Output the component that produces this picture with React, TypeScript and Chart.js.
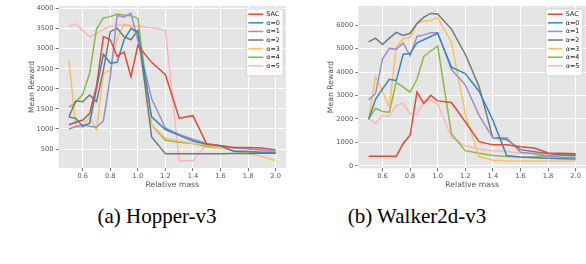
import React, { useEffect, useRef } from 'react';
import { Chart, registerables } from 'chart.js';

Chart.register(...registerables);

// ---------- data ----------
const relativeMass = [0.5, 0.55, 0.6, 0.65, 0.7, 0.75, 0.8, 0.85, 0.9, 0.95, 1.0, 1.1, 1.2, 1.3, 1.4, 1.5, 1.6, 1.7, 1.8, 1.9, 2.0];

const seriesLabels = ['SAC', 'α=0', 'α=1', 'α=2', 'α=3', 'α=4', 'α=5'];
const seriesColors = ['#E24A33', '#348ABD', '#988ED5', '#777777', '#FBC15E', '#8EBA42', '#FFB5B8'];

// Hopper-v3
const hopperSAC = [1104, 1168, 1224, 1384, 2064, 3303, 3223, 2807, 2919, 2302, 3079, 2660, 2350, 1267, 1332, 621, 580, 539, 539, 524, 476];
const hopperA0 = [1296, 1264, 1064, 1144, 2000, 2863, 2638, 2662, 3222, 3504, 3408, 1304, 985, 840, 700, 620, 580, 440, 440, 418, 403];
const hopperA1 = [1000, 1060, 1107, 1070, 1041, 1204, 2300, 3830, 3784, 3888, 3200, 1750, 1024, 864, 743, 636, 580, 524, 500, 476, 418];
const hopperA2 = [1304, 1704, 1680, 1848, 1680, 2464, 3424, 3510, 3300, 3222, 3463, 800, 380, 380, 380, 385, 385, 390, 390, 395, 400];
const hopperA3 = [2718, 1040, 1040, 1300, 980, 2380, 2460, 3260, 3610, 3580, 3260, 1107, 767, 700, 636, 597, 539, 459, 393, 313, 216];
const hopperA4 = [1536, 1664, 1864, 2382, 3488, 3768, 3800, 3864, 3840, 3824, 3760, 1100, 718, 670, 636, 563, 530, 460, 435, 410, 400];
const hopperA5 = [3560, 3620, 3450, 3300, 3370, 3480, 3560, 3590, 3580, 3560, 3560, 3520, 3463, 210, 210, 620, 580, 540, 510, 480, 450];

// Walker2d-v3
const walkerSAC = [411, 411, 411, 411, 405, 950, 1300, 3142, 2661, 3005, 2771, 2700, 1880, 1029, 893, 893, 811, 757, 551, 535, 510];
const walkerA0 = [1988, 2840, 3280, 3692, 3637, 4763, 4791, 5244, 5382, 5519, 5656, 4214, 3938, 3185, 1950, 440, 370, 340, 320, 300, 290];
const walkerA1 = [2812, 3087, 4557, 5011, 4970, 5244, 4695, 5519, 5588, 5684, 5684, 4110, 3457, 2156, 1193, 1193, 576, 510, 412, 370, 370];
const walkerA2 = [5286, 5450, 5176, 5450, 5698, 5560, 5657, 6069, 6343, 6505, 6481, 5835, 4763, 3390, 1190, 1127, 690, 600, 520, 470, 440];
const walkerA3 = [2015, 3802, 3183, 2496, 5066, 5423, 5478, 6069, 6179, 6206, 6316, 5280, 2200, 399, 235, 210, 208, 208, 208, 208, 208];
const walkerA4 = [1988, 2455, 2318, 2290, 3568, 3362, 3142, 3692, 4667, 4900, 5107, 1360, 646, 535, 440, 399, 380, 390, 420, 450, 480];
const walkerA5 = [2015, 1809, 2153, 2112, 2565, 2675, 2221, 2180, 2771, 2812, 2634, 1220, 852, 716, 646, 605, 535, 520, 505, 500, 495];

const xTickValues = [0.6, 0.8, 1.0, 1.2, 1.4, 1.6, 1.8, 2.0];
const xTickLabels = ['0.6', '0.8', '1.0', '1.2', '1.4', '1.6', '1.8', '2.0'];
const hopperYTickValues = [500, 1000, 1500, 2000, 2500, 3000, 3500, 4000];
const hopperYTickLabels = ['500', '1000', '1500', '2000', '2500', '3000', '3500', '4000'];
const walkerYTickValues = [0, 1000, 2000, 3000, 4000, 5000, 6000];
const walkerYTickLabels = ['0', '1000', '2000', '3000', '4000', '5000', '6000'];

const xTitle = 'Relative mass';
const yTitle = 'Mean Reward';
const captions = ['(a) Hopper-v3', '(b) Walker2d-v3'];

// ---------- plugins ----------
const bgPlugin = {
  id: 'plotBg',
  beforeDraw(chart: any) {
    const { ctx, chartArea } = chart;
    ctx.save();
    ctx.fillStyle = '#E5E5E5';
    ctx.fillRect(chartArea.left, chartArea.top, chartArea.right - chartArea.left, chartArea.bottom - chartArea.top);
    ctx.restore();
  },
};

const legendPlugin = {
  id: 'innerLegend',
  afterDraw(chart: any) {
    const { ctx, chartArea } = chart;
    const opts = chart.options.plugins.innerLegend || {};
    const w = 37;
    const h = 67;
    const x0 = chartArea.right - (opts.rightGap ?? 3) - w;
    const y0 = chartArea.top + 3;
    ctx.save();
    ctx.beginPath();
    const r = 2;
    ctx.moveTo(x0 + r, y0);
    ctx.lineTo(x0 + w - r, y0);
    ctx.quadraticCurveTo(x0 + w, y0, x0 + w, y0 + r);
    ctx.lineTo(x0 + w, y0 + h - r);
    ctx.quadraticCurveTo(x0 + w, y0 + h, x0 + w - r, y0 + h);
    ctx.lineTo(x0 + r, y0 + h);
    ctx.quadraticCurveTo(x0, y0 + h, x0, y0 + h - r);
    ctx.lineTo(x0, y0 + r);
    ctx.quadraticCurveTo(x0, y0, x0 + r, y0);
    ctx.closePath();
    ctx.fillStyle = 'rgba(255,255,255,0.85)';
    ctx.fill();
    ctx.strokeStyle = '#cccccc';
    ctx.lineWidth = 0.8;
    ctx.stroke();
    ctx.font = '6.4px "DejaVu Sans"';
    ctx.textBaseline = 'middle';
    chart.data.datasets.forEach((ds: any, i: number) => {
      const y = y0 + 5.2 + i * 8.6;
      ctx.beginPath();
      ctx.strokeStyle = ds.borderColor;
      ctx.lineWidth = 1.5;
      ctx.moveTo(x0 + 2, y);
      ctx.lineTo(x0 + 17, y);
      ctx.stroke();
      ctx.fillStyle = '#222222';
      ctx.fillText(ds.label, x0 + 20, y + 0.3);
    });
    ctx.restore();
  },
};

// ---------- panel ----------
type PanelProps = {
  width: number;
  height: number;
  series: number[][];
  yMin: number;
  yMax: number;
  yTickValues: number[];
  yTickLabels: string[];
  yAxisWidth: number;
  xAxisHeight: number;
  yTitlePad: number;
  rightPad: number;
  legendGap: number;
};

function Panel(p: PanelProps) {
  const ref = useRef<HTMLCanvasElement | null>(null);
  useEffect(() => {
    if (!ref.current) return;
    const tickFont = { family: 'DejaVu Sans', size: 6.7 };
    const titleFont = { family: 'DejaVu Sans', size: 7.7 };
    const chart = new Chart(ref.current, {
      type: 'line',
      data: {
        datasets: p.series.map((vals, i) => ({
          label: seriesLabels[i],
          data: vals.map((v, j) => ({ x: relativeMass[j], y: v })),
          borderColor: seriesColors[i],
          backgroundColor: seriesColors[i],
          borderWidth: 1.5,
          pointRadius: 0,
          tension: 0,
          fill: false,
        })),
      },
      options: {
        responsive: false,
        animation: false,
        devicePixelRatio: 1,
        layout: { padding: { left: 0, right: p.rightPad, top: 0, bottom: 0 } },
        plugins: {
          legend: { display: false },
          tooltip: { enabled: false },
          innerLegend: { rightGap: p.legendGap },
        } as any,
        scales: {
          x: {
            type: 'linear',
            min: 0.425,
            max: 2.075,
            afterBuildTicks: (scale: any) => {
              scale.ticks = xTickValues.map((v) => ({ value: v }));
            },
            afterFit: (scale: any) => {
              scale.height = p.xAxisHeight;
            },
            ticks: {
              autoSkip: false,
              maxRotation: 0,
              padding: 1,
              color: '#555555',
              font: tickFont,
              callback: (_v: any, idx: number) => xTickLabels[idx],
            },
            grid: { color: '#ffffff', lineWidth: 1, tickColor: '#555555', tickLength: 3, tickWidth: 0.8, drawTicks: true },
            border: { display: false },
            title: { display: true, text: xTitle, color: '#555555', font: titleFont, padding: { top: 0, bottom: 10.4 } },
          },
          y: {
            type: 'linear',
            min: p.yMin,
            max: p.yMax,
            afterBuildTicks: (scale: any) => {
              scale.ticks = p.yTickValues.map((v) => ({ value: v }));
            },
            afterFit: (scale: any) => {
              scale.width = p.yAxisWidth;
            },
            ticks: {
              autoSkip: false,
              padding: 2,
              color: '#555555',
              font: tickFont,
              callback: (_v: any, idx: number) => p.yTickLabels[idx],
            },
            grid: { color: '#ffffff', lineWidth: 1, tickColor: '#555555', tickLength: 3, tickWidth: 0.8, drawTicks: true },
            border: { display: false },
            title: { display: true, text: yTitle, color: '#555555', font: titleFont, padding: { top: p.yTitlePad, bottom: 0 } },
          },
        },
      } as any,
      plugins: [bgPlugin, legendPlugin],
    });
    return () => chart.destroy();
  }, []);
  return <canvas ref={ref} width={p.width} height={p.height} style={{ width: p.width, height: p.height, display: 'block' }} />;
}

export default function App() {
  const captionStyle: React.CSSProperties = {
    position: 'absolute',
    top: 204,
    width: 220,
    textAlign: 'center',
    fontFamily: '"Liberation Serif", "Times New Roman", serif',
    fontSize: 21,
    lineHeight: '24px',
    color: '#000',
    whiteSpace: 'nowrap',
  };
  return (
    <div style={{ position: 'absolute', left: 0, top: 0, width: 586, height: 264, background: '#ffffff', overflow: 'hidden' }}>
      <div style={{ position: 'absolute', left: 0, top: 0 }}>
        <Panel
          width={292}
          height={200}
          series={[hopperSAC, hopperA0, hopperA1, hopperA2, hopperA3, hopperA4, hopperA5]}
          yMin={27}
          yMax={4064}
          yTickValues={hopperYTickValues}
          yTickLabels={hopperYTickLabels}
          yAxisWidth={58.6}
          xAxisHeight={32}
          yTitlePad={27.5}
          rightPad={6}
          legendGap={2.7}
        />
      </div>
      <div style={{ position: 'absolute', left: 292, top: 0 }}>
        <Panel
          width={294}
          height={200}
          series={[walkerSAC, walkerA0, walkerA1, walkerA2, walkerA3, walkerA4, walkerA5]}
          yMin={-107}
          yMax={6820}
          yTickValues={walkerYTickValues}
          yTickLabels={walkerYTickLabels}
          yAxisWidth={66.3}
          xAxisHeight={31.7}
          yTitlePad={34.2}
          rightPad={0}
          legendGap={3.3}
        />
      </div>
      <div style={{ ...captionStyle, left: 47 }}>{captions[0]}</div>
      <div style={{ ...captionStyle, left: 307 }}>{captions[1]}</div>
    </div>
  );
}
